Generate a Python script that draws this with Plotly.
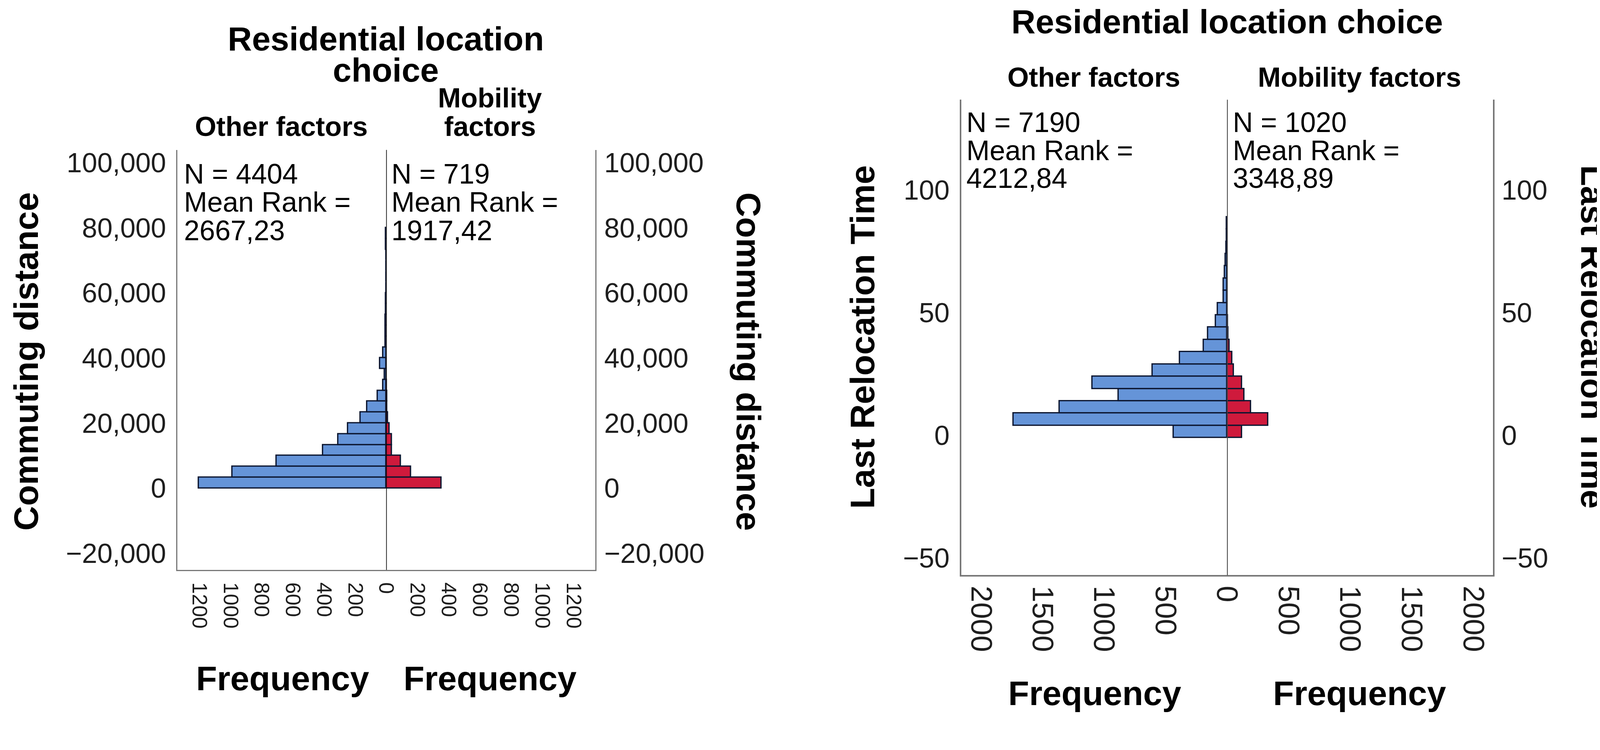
import plotly.graph_objects as go

# The page is photographed with the figure slightly magnified; work in the
# reference's pixel frame and convert to CSS pixels.
K = 1.05          # picture px per CSS px
M = 8             # body margin (CSS px)
WC = int(4306 / K) - M
HC = int(1920 / K) - M
FONT = "Liberation Sans, Arial, sans-serif"

# ---------------- data ----------------
# Left chart: Commuting distance, frequencies per bin (bins of 100000/30 starting at 0)
commute_bin_start = 0
commute_bin_width = 100000 / 30
commute_other = [1205, 988, 705, 408, 308, 247, 166, 124, 55, 21, 10, 40, 22,
                 6, 5, 5, 3, 2, 1, 1, 1, 1, 4, 4]
commute_mobility = [352, 158, 92, 35, 36, 21, 11, 6, 4, 2, 1, 1]
commute_yticks = [-20000, 0, 20000, 40000, 60000, 80000, 100000]
commute_freq_ticks = [0, 200, 400, 600, 800, 1000, 1200]
commute_text_other = ["N = 4404", "Mean Rank =", "2667,23"]
commute_text_mobility = ["N = 719", "Mean Rank =", "1917,42"]

# Right chart: Last Relocation Time, frequencies per bin (bins of 5 starting at -1)
reloc_bin_start = -1
reloc_bin_width = 5
reloc_other = [435, 1738, 1362, 884, 1097, 606, 385, 190, 156, 93, 77, 30, 28,
               18, 13, 6, 4, 2]
reloc_mobility = [122, 333, 195, 141, 122, 54, 40, 18, 9, 5, 3, 2, 1, 1]
reloc_yticks = [-50, 0, 50, 100]
reloc_freq_ticks = [0, 500, 1000, 1500, 2000]
reloc_text_other = ["N = 7190", "Mean Rank =", "4212,84"]
reloc_text_mobility = ["N = 1020", "Mean Rank =", "3348,89"]

group_other = "Other factors"
group_mobility = "Mobility factors"
chart_title = "Residential location choice"

# ---------------- styles ----------------
BLUE = "#6594d8"
RED = "#cf1a3c"
OUTLINE = "#0c1630"
FRAME = "#777777"
TICKC = "#1e1e1e"


def px(x):
    return (x / K - M) / WC


def py(y):
    return 1 - (y / K - M) / HC


def fs(s):
    return s / K


def centers(start, width, counts):
    return [start + width * (i + 0.5) for i in range(len(counts))]


fig = go.Figure()

bar_line = dict(color=OUTLINE, width=fs(3.5))
fig.add_trace(go.Bar(y=centers(commute_bin_start, commute_bin_width, commute_other),
                     x=commute_other, orientation="h", width=commute_bin_width,
                     marker=dict(color=BLUE, line=bar_line), xaxis="x", yaxis="y",
                     name=group_other))
fig.add_trace(go.Bar(y=centers(commute_bin_start, commute_bin_width, commute_mobility),
                     x=commute_mobility, orientation="h", width=commute_bin_width,
                     marker=dict(color=RED, line=bar_line), xaxis="x2", yaxis="y3",
                     name=group_mobility))
fig.add_trace(go.Bar(y=centers(reloc_bin_start, reloc_bin_width, reloc_other),
                     x=reloc_other, orientation="h", width=reloc_bin_width,
                     marker=dict(color=BLUE, line=bar_line), xaxis="x3", yaxis="y2",
                     name=group_other))
fig.add_trace(go.Bar(y=centers(reloc_bin_start, reloc_bin_width, reloc_mobility),
                     x=reloc_mobility, orientation="h", width=reloc_bin_width,
                     marker=dict(color=RED, line=bar_line), xaxis="x4", yaxis="y4",
                     name=group_mobility))

base_ax = dict(showgrid=False, zeroline=False, ticks="", showline=True,
               linecolor=FRAME, fixedrange=True)

# left chart geometry (reference pixels)
L_left, L_mid, L_right, L_top, L_bot = 477, 1038, 1600, 403, 1532
L_xmax = 1340
L_yrange = [-25143, 103886]
# right chart geometry (reference pixels)
R_left, R_mid, R_right, R_top, R_bot = 2584, 3298, 4013, 268, 1546
R_xmax = 2160
R_yrange = [-57.0, 136.7]

xt_small = dict(size=fs(56), color=TICKC, family=FONT)
xt_big = dict(size=fs(80), color=TICKC, family=FONT)
yt = dict(size=fs(74), color=TICKC, family=FONT)

fig.update_layout(
    width=WC, height=HC, margin=dict(l=0, r=0, t=0, b=0),
    template="none", paper_bgcolor="white", plot_bgcolor="white",
    showlegend=False, bargap=0, font=dict(family=FONT, color="#000"),
    xaxis=dict(domain=[px(L_left), px(L_mid)], range=[L_xmax, 0], anchor="y",
               tickvals=commute_freq_ticks, tickformat="d", tickangle=90,
               tickfont=xt_small, ticklabelstandoff=18, linewidth=fs(3), **base_ax),
    xaxis2=dict(domain=[px(L_mid), px(L_right)], range=[0, L_xmax], anchor="y",
                tickvals=commute_freq_ticks[1:], tickformat="d", tickangle=90,
                tickfont=xt_small, ticklabelstandoff=18, linewidth=fs(3), **base_ax),
    yaxis=dict(domain=[py(L_bot), py(L_top)], range=L_yrange, anchor="x", side="left",
               tickvals=commute_yticks, tickformat=",", tickfont=yt,
               ticklabelstandoff=12, linewidth=fs(3), **base_ax),
    yaxis3=dict(range=L_yrange, anchor="x2", side="right", overlaying="y",
                tickvals=commute_yticks, tickformat=",", tickfont=yt,
                ticklabelstandoff=6, linewidth=fs(3), **base_ax),
    xaxis3=dict(domain=[px(R_left), px(R_mid)], range=[R_xmax, 0], anchor="y2",
                tickvals=reloc_freq_ticks, tickformat="d", tickangle=90,
                tickfont=xt_big, ticklabelstandoff=8, linewidth=fs(4), **base_ax),
    xaxis4=dict(domain=[px(R_mid), px(R_right)], range=[0, R_xmax], anchor="y2",
                tickvals=reloc_freq_ticks[1:], tickformat="d", tickangle=90,
                tickfont=xt_big, ticklabelstandoff=8, linewidth=fs(4), **base_ax),
    yaxis2=dict(domain=[py(R_bot), py(R_top)], range=R_yrange, anchor="x3", side="left",
                tickvals=reloc_yticks, tickformat="d", tickfont=yt,
                ticklabelstandoff=12, linewidth=fs(4), **base_ax),
    yaxis4=dict(range=R_yrange, anchor="x4", side="right", overlaying="y2",
                tickvals=reloc_yticks, tickformat="d", tickfont=yt,
                ticklabelstandoff=4, linewidth=fs(4), **base_ax),
)

# center lines
fig.add_shape(type="line", xref="x2", yref="y domain", x0=0, x1=0, y0=0, y1=1,
              line=dict(color="#000000", width=fs(3.5)), layer="above")
fig.add_shape(type="line", xref="x4", yref="y2 domain", x0=0, x1=0, y0=0, y1=1,
              line=dict(color="#454545", width=fs(4.5)), layer="above")


def note(text, x, y, size, bold=False, angle=0, xanchor="center"):
    t = f"<b>{text}</b>" if bold else text
    fig.add_annotation(text=t, x=px(x), y=py(y), xref="paper", yref="paper",
                       showarrow=False, xanchor=xanchor, yanchor="middle",
                       textangle=angle, borderpad=0,
                       font=dict(family=FONT, size=fs(size), color="#000"))


# ---- left chart texts ----
note("Residential location", 1037, 104, 90, bold=True)
note("choice", 1037, 188, 90, bold=True)
note(group_other, 757, 340, 74, bold=True)
note(group_mobility.split(" ")[0], 1317, 263, 74, bold=True)
note(group_mobility.split(" ")[1], 1317, 340, 74, bold=True)
note("Commuting distance", 70, 972, 92, bold=True, angle=-90)
note("Commuting distance", 2012, 972, 92, bold=True, angle=90)
note("Frequency", 760, 1824, 92, bold=True)
note("Frequency", 1317, 1824, 92, bold=True)
for i, line in enumerate(commute_text_other):
    note(line, 494, 467 + 76 * i, 75, xanchor="left")
for i, line in enumerate(commute_text_mobility):
    note(line, 1051, 467 + 76 * i, 75, xanchor="left")

# ---- right chart texts ----
note(chart_title, 3299, 58, 90, bold=True)
note(group_other, 2940, 207, 74, bold=True)
note(group_mobility, 3654, 207, 74, bold=True)
note("Last Relocation Time", 2318, 906, 92, bold=True, angle=-90)
note("Last Relocation Time", 4282, 906, 92, bold=True, angle=90)
note("Frequency", 2943, 1864, 92, bold=True)
note("Frequency", 3654, 1864, 92, bold=True)
for i, line in enumerate(reloc_text_other):
    note(line, 2597, 329 + 75 * i, 75, xanchor="left")
for i, line in enumerate(reloc_text_mobility):
    note(line, 3313, 329 + 75 * i, 75, xanchor="left")

fig.write_html("out.html")
